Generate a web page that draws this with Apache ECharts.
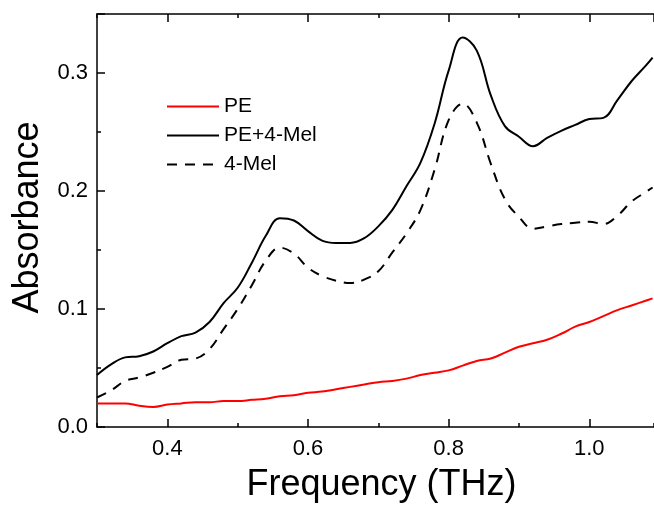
<!DOCTYPE html>
<html>

<head>
    <meta charset="utf-8" />
    <title>Absorbance</title>
    <style>
        html, body {
            margin: 0;
            padding: 0;
            background: #fff;
        }

        .main {
            width: 654px;
            height: 505px;
        }
    </style>
    <script src="https://cdn.jsdelivr.net/npm/echarts@6/dist/echarts.min.js"></script>
</head>

<body>
    <div class="main"></div>

    <script type="text/javascript">
        // frequency (THz) of every sample
        const freq = [0.30, 0.32, 0.34, 0.36, 0.38, 0.40, 0.42, 0.44, 0.46, 0.48,
            0.50, 0.52, 0.54, 0.56, 0.58, 0.60, 0.62, 0.64, 0.66, 0.68,
            0.70, 0.72, 0.74, 0.76, 0.78, 0.80, 0.82, 0.84, 0.86, 0.88,
            0.90, 0.92, 0.94, 0.96, 0.98, 1.00, 1.02, 1.04, 1.06, 1.08, 1.09];

        const pe = [0.020, 0.020, 0.020, 0.018, 0.017, 0.019, 0.020, 0.021, 0.021, 0.022,
            0.022, 0.023, 0.024, 0.026, 0.027, 0.029, 0.030, 0.032, 0.034, 0.036,
            0.038, 0.039, 0.041, 0.044, 0.046, 0.048, 0.052, 0.056, 0.058, 0.063,
            0.068, 0.071, 0.074, 0.079, 0.085, 0.089, 0.094, 0.099, 0.103, 0.107, 0.109];

        const peMel = [0.044, 0.053, 0.059, 0.060, 0.064, 0.071, 0.077, 0.080, 0.089, 0.105,
            0.118, 0.139, 0.162, 0.177, 0.175, 0.166, 0.158, 0.156, 0.156, 0.160,
            0.170, 0.184, 0.204, 0.224, 0.257, 0.302, 0.330, 0.319, 0.281, 0.255,
            0.246, 0.238, 0.245, 0.251, 0.256, 0.261, 0.262, 0.277, 0.293, 0.306, 0.313];

        const mel = [0.025, 0.031, 0.039, 0.042, 0.046, 0.051, 0.057, 0.058, 0.066, 0.083,
            0.100, 0.120, 0.141, 0.152, 0.147, 0.135, 0.128, 0.124, 0.122, 0.125,
            0.132, 0.148, 0.164, 0.184, 0.218, 0.260, 0.274, 0.258, 0.223, 0.193,
            0.178, 0.168, 0.170, 0.172, 0.173, 0.174, 0.172, 0.179, 0.191, 0.199, 0.203];

        // axis ranges
        const xMin = 0.3;
        const xMax = 1.092;
        const xFirstMajor = 0.4;
        const yMin = 0;
        const yMax = 0.35;

        const font = 'Arial, "Liberation Sans", sans-serif';

        function black() {
            return { color: '#000', width: 1.5 };
        }

        function pairs(ys) {
            return freq.map(function (f, i) { return [f, ys[i]]; });
        }

        const myChart = echarts.init(document.querySelector('.main'));

        // grid 0 holds the data and the 0.1 (short) ticks,
        // grid 1 is the same plot shifted to start at 0.4 so its 0.2 ticks land on 0.4, 0.6, ...
        const plotW = 654 - 97;
        const shift = (xFirstMajor - xMin) / (xMax - xMin) * plotW;

        const option = {
            animation: false,
            grid: [
                { left: 97, right: 0, top: 14, bottom: 78, outerBoundsMode: 'none' },
                { left: 97 + shift, right: 0, top: 14, bottom: 78, outerBoundsMode: 'none' }
            ],
            legend: {
                orient: 'vertical',
                left: 161,
                top: 91,
                itemWidth: 52,
                itemHeight: 10,
                itemGap: 8,
                textStyle: { fontSize: 21, color: '#000', fontFamily: font },
                data: ['PE', 'PE+4-Mel', '4-Mel']
            },
            xAxis: [
                {
                    gridIndex: 0, type: 'value', position: 'bottom', min: xMin, max: xMax, interval: 0.1,
                    axisLine: { show: true, onZero: false, lineStyle: black() },
                    axisTick: { show: true, inside: true, length: 4, lineStyle: black() },
                    axisLabel: { show: false },
                    splitLine: { show: false },
                    name: 'Frequency (THz)',
                    nameLocation: 'middle',
                    nameGap: 40,
                    nameTextStyle: { fontSize: 36, color: '#000', fontFamily: font, padding: [0, 0, 0, 12] }
                },
                {
                    gridIndex: 0, type: 'value', position: 'top', min: xMin, max: xMax, interval: 0.1,
                    axisLine: { show: true, onZero: false, lineStyle: black() },
                    axisTick: { show: true, inside: true, length: 4, lineStyle: black() },
                    axisLabel: { show: false },
                    splitLine: { show: false }
                },
                {
                    gridIndex: 1, type: 'value', position: 'bottom', min: xFirstMajor, max: xMax, interval: 0.2,
                    axisLine: { show: false, onZero: false },
                    axisTick: { show: true, inside: true, length: 8, lineStyle: black() },
                    axisLabel: {
                        margin: 11, fontSize: 22, color: '#000', fontFamily: font, showMaxLabel: false,
                        formatter: function (v) { return v > 1.05 ? '' : v.toFixed(1); }
                    },
                    splitLine: { show: false }
                },
                {
                    gridIndex: 1, type: 'value', position: 'top', min: xFirstMajor, max: xMax, interval: 0.2,
                    axisLine: { show: false, onZero: false },
                    axisTick: { show: true, inside: true, length: 8, lineStyle: black() },
                    axisLabel: { show: false },
                    splitLine: { show: false }
                }
            ],
            yAxis: [
                {
                    gridIndex: 0, type: 'value', position: 'left', min: yMin, max: yMax, interval: 0.1,
                    axisLine: { show: true, onZero: false, lineStyle: black() },
                    axisTick: { show: true, inside: true, length: 8, lineStyle: black() },
                    minorTick: { show: true, splitNumber: 2, length: 4, lineStyle: black() },
                    axisLabel: {
                        margin: 9, fontSize: 22, color: '#000', fontFamily: font, showMaxLabel: false,
                        formatter: function (v) { return v > 0.32 ? '' : v.toFixed(1); }
                    },
                    splitLine: { show: false },
                    name: 'Absorbance',
                    nameLocation: 'middle',
                    nameGap: 48,
                    nameTextStyle: { fontSize: 36, color: '#000', fontFamily: font, padding: [0, 0, 0, 6] }
                },
                {
                    gridIndex: 1, type: 'value', min: yMin, max: yMax, show: false
                }
            ],
            series: [
                {
                    name: 'PE', type: 'line', data: pairs(pe), smooth: 0.4, symbol: 'none',
                    lineStyle: { color: '#ff0000', width: 2 }, itemStyle: { color: '#ff0000', opacity: 0 }
                },
                {
                    name: 'PE+4-Mel', type: 'line', data: pairs(peMel), smooth: 0.4, symbol: 'none',
                    lineStyle: { color: '#000', width: 2 }, itemStyle: { color: '#000', opacity: 0 }
                },
                {
                    name: '4-Mel', type: 'line', data: pairs(mel), smooth: 0.4, symbol: 'none',
                    lineStyle: { color: '#000', width: 2, type: [10, 8] }, itemStyle: { color: '#000', opacity: 0 }
                }
            ]
        };
        myChart.setOption(option);
    </script>
</body>

</html>
